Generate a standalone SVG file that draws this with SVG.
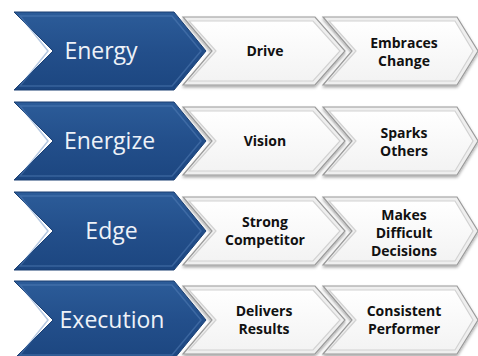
<svg xmlns="http://www.w3.org/2000/svg" xmlns:xlink="http://www.w3.org/1999/xlink" width="478" height="356" viewBox="0 0 478 356">
<defs>
  <linearGradient id="gBlue" x1="0" y1="0" x2="0" y2="1">
    <stop offset="0" stop-color="#2c5c99"/>
    <stop offset="0.5" stop-color="#234f8b"/>
    <stop offset="1" stop-color="#1c4680"/>
  </linearGradient>
  <linearGradient id="gWhite" x1="0" y1="0" x2="0" y2="1">
    <stop offset="0" stop-color="#ffffff"/>
    <stop offset="1" stop-color="#f3f3f3"/>
  </linearGradient>
  <filter id="shadow" x="-5%" y="-10%" width="115%" height="130%">
    <feDropShadow dx="0" dy="2" stdDeviation="1.5" flood-color="#000" flood-opacity="0.35"/>
  </filter>
  <g id="blueChev">
    <path d="M14,-39 L174,-39 L206,0 L174,39 L14,39 L53,0 Z" fill="url(#gBlue)" stroke="#1a3f73" stroke-width="1"/>
    <path d="M20,-35 L172,-35 L201,0 L172,35 L20,35 L48,0 Z" fill="none" stroke="#5b86bd" stroke-opacity="0.45" stroke-width="1.5"/>
  </g>
  <g id="whiteChev1">
    <path d="M183,-34 L315,-34 L345,0 L315,34 L183,34 L212,0 Z" fill="#efefef" stroke="#9a9a9a" stroke-width="1.2" filter="url(#shadow)"/>
    <path d="M189,-30 L313,-30 L340,0 L313,30 L189,30 L216,0 Z" fill="url(#gWhite)" stroke="#d2d2d2" stroke-width="1.2"/>
  </g>
  <g id="whiteChev2">
    <path d="M323,-34 L457,-34 L478,0 L457,34 L323,34 L352,0 Z" fill="#efefef" stroke="#9a9a9a" stroke-width="1.2" filter="url(#shadow)"/>
    <path d="M329,-30 L455,-30 L473,0 L455,30 L329,30 L356,0 Z" fill="url(#gWhite)" stroke="#d2d2d2" stroke-width="1.2"/>
  </g>
</defs>
<style>
  .big { font-family: "Open Sans", "Liberation Sans", sans-serif; font-size: 23px; fill: #eef2f8; }
  .sm { font-family: "Open Sans", "Liberation Sans", sans-serif; font-size: 14px; font-weight: bold; fill: #111; text-anchor: middle; }
</style>
<rect width="478" height="356" fill="#ffffff"/>

<!-- Row 1 -->
<g id="energy" transform="translate(0,51)">
  <use xlink:href="#blueChev"/>
  <text class="big" x="101" y="7.5" text-anchor="middle">Energy</text>
</g>
<g id="drive" transform="translate(0,51)">
  <use xlink:href="#whiteChev1"/>
  <text class="sm" x="265" y="5">Drive</text>
</g>
<g id="embraces-change" transform="translate(0,51)">
  <use xlink:href="#whiteChev2"/>
  <text class="sm" x="404" y="-3.5">Embraces</text>
  <text class="sm" x="404" y="14.5">Change</text>
</g>

<!-- Row 2 -->
<g id="energize" transform="translate(0,141)">
  <use xlink:href="#blueChev"/>
  <text class="big" x="109.5" y="7.5" text-anchor="middle">Energize</text>
</g>
<g id="vision" transform="translate(0,141)">
  <use xlink:href="#whiteChev1"/>
  <text class="sm" x="265" y="5">Vision</text>
</g>
<g id="sparks-others" transform="translate(0,141)">
  <use xlink:href="#whiteChev2"/>
  <text class="sm" x="404" y="-3.5">Sparks</text>
  <text class="sm" x="404" y="14.5">Others</text>
</g>

<!-- Row 3 -->
<g id="edge" transform="translate(0,231)">
  <use xlink:href="#blueChev"/>
  <text class="big" x="111.5" y="7.5" text-anchor="middle">Edge</text>
</g>
<g id="strong-competitor" transform="translate(0,231)">
  <use xlink:href="#whiteChev1"/>
  <text class="sm" x="265" y="-4">Strong</text>
  <text class="sm" x="265" y="14">Competitor</text>
</g>
<g id="makes-difficult-decisions" transform="translate(0,231)">
  <use xlink:href="#whiteChev2"/>
  <text class="sm" x="404" y="-11">Makes</text>
  <text class="sm" x="404" y="7">Difficult</text>
  <text class="sm" x="404" y="25">Decisions</text>
</g>

<!-- Row 4 -->
<g id="execution" transform="translate(0,320)">
  <use xlink:href="#blueChev"/>
  <text class="big" x="112" y="8" text-anchor="middle">Execution</text>
</g>
<g id="delivers-results" transform="translate(0,320)">
  <use xlink:href="#whiteChev1"/>
  <text class="sm" x="264" y="-4">Delivers</text>
  <text class="sm" x="264" y="14">Results</text>
</g>
<g id="consistent-performer" transform="translate(0,320)">
  <use xlink:href="#whiteChev2"/>
  <text class="sm" x="404" y="-4">Consistent</text>
  <text class="sm" x="404" y="14">Performer</text>
</g>
</svg>
